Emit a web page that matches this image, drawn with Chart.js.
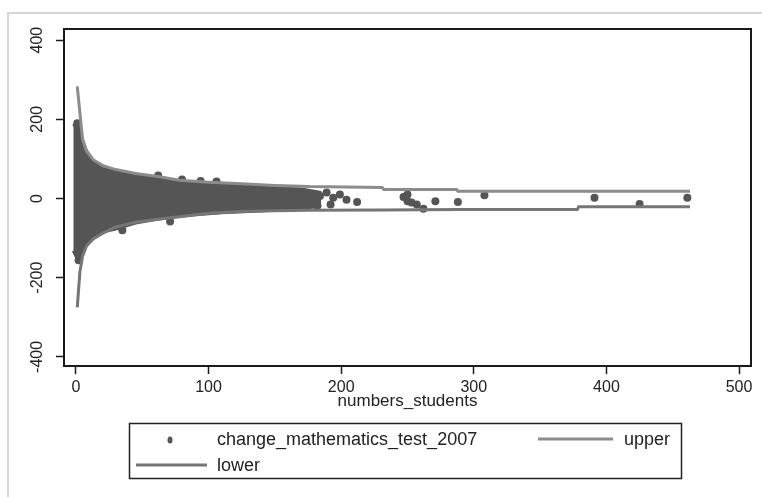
<!DOCTYPE html>
<html>
<head>
<meta charset="utf-8">
<script src="https://cdn.jsdelivr.net/npm/chart.js@4.4.1/dist/chart.umd.min.js"></script>
<style>
  html, body { margin: 0; padding: 0; background: #fff; }
  #wrap { position: relative; width: 762px; height: 497px; overflow: hidden; }
  #frame { position: absolute; left: 7px; top: 12px; right: -4px; bottom: -4px;
           border-top: 2px solid #d6d6d6; border-left: 2px solid #d6d6d6; }
  canvas { position: absolute; left: 0; top: 0; }
</style>
</head>
<body>
<div id="wrap">
  <div id="frame"></div>
  <canvas id="chart" width="762" height="497"></canvas>
</div>
<script>
// axis ticks
const xTicks = [0, 100, 200, 300, 400, 500];
const yTicks = [-400, -200, 0, 200, 400];

// funnel limits
const upperX = [1, 3, 5, 8, 13, 20, 30, 45, 63, 78, 100, 125, 150, 176, 231, 232, 287, 288, 463];
const upperY = [283, 216, 150, 119, 98, 83, 73, 63, 55, 46, 41, 37, 33, 30, 28, 23, 23, 18, 18];
const lowerX = [1, 3, 5, 8, 13, 20, 30, 45, 63, 78, 100, 125, 150, 176, 230, 290, 378, 379, 463];
const lowerY = [-275, -185, -146, -120, -102, -88, -72, -60, -52, -46, -37, -33, -31, -30, -29, -28, -28, -21, -21];

// the dense part of the scatter, as its upper and lower edge
const cloudX   = [-2, 1, 3, 5, 8, 13, 20, 30, 45, 60, 75, 90, 110, 130, 150, 170, 185];
const cloudTop = [182, 192, 180, 147, 120, 96, 83, 71, 61, 53, 46, 41, 36, 32, 28, 24, 15];
const cloudBot = [-132, -152, -150, -132, -110, -94, -85, -77, -62, -53, -46, -41, -36, -33, -30, -27, -17];

// separate schools outside the dense part
const pointX = [1, 2, 35, 62, 71, 80, 94, 106, 156, 179, 182, 184, 189, 192, 194, 199, 204, 212,
                247, 250, 250, 253, 257, 262, 271, 288, 308, 391, 425, 461];
const pointY = [190, -156, -80, 58, -58, 48, 44, 43, 15, -15, -19, 6, 15, -15, 2, 10, -3, -9,
                4, 10, -7, -10, -15, -26, -7, -9, 8, 2, -14, 2];

const FONT = 'Liberation Sans, Arial, sans-serif';
const DARK = '#555555';
const toXY = (xs, ys) => xs.map((x, i) => ({ x: x, y: ys[i] }));

const framePlugin = {
  id: 'frame',
  afterDraw(chart) {
    const { ctx, chartArea: a } = chart;
    ctx.save();
    ctx.strokeStyle = '#1a1a1a';
    ctx.lineWidth = 2;
    ctx.beginPath();
    ctx.moveTo(a.left - 1, a.top);
    ctx.lineTo(a.right, a.top);
    ctx.lineTo(a.right, a.bottom + 1);
    ctx.stroke();
    ctx.restore();
  }
};

// Stata-like boxed legend under the plot
const legendPlugin = {
  id: 'boxLegend',
  afterDraw(chart) {
    const ctx = chart.ctx;
    const ds = chart.data.datasets;
    ctx.save();
    ctx.strokeStyle = '#222';
    ctx.lineWidth = 1.5;
    ctx.strokeRect(129.5, 423.5, 552, 55);
    ctx.font = '18px ' + FONT;
    ctx.fillStyle = '#222';
    ctx.textBaseline = 'middle';
    ctx.textAlign = 'left';
    // scatter entry
    ctx.fillStyle = ds[0].backgroundColor;
    ctx.beginPath();
    ctx.ellipse(170, 440, 2.5, 3.5, 0, 0, Math.PI * 2);
    ctx.fill();
    ctx.fillStyle = '#222';
    ctx.fillText(ds[0].label, 217, 440);
    // upper
    ctx.strokeStyle = ds[3].borderColor;
    ctx.lineWidth = 3;
    ctx.beginPath(); ctx.moveTo(538, 439); ctx.lineTo(613, 439); ctx.stroke();
    ctx.fillText(ds[3].label, 624, 440);
    // lower
    ctx.strokeStyle = ds[4].borderColor;
    ctx.beginPath(); ctx.moveTo(136, 465); ctx.lineTo(207, 465); ctx.stroke();
    ctx.fillText(ds[4].label, 217, 466);
    ctx.restore();
  }
};

new Chart(document.getElementById('chart'), {
  type: 'line',
  data: {
    datasets: [
      {
        label: 'change_mathematics_test_2007',
        data: toXY(pointX, pointY),
        showLine: false,
        pointRadius: 4,
        pointBorderWidth: 0,
        backgroundColor: DARK,
        borderColor: DARK,
        order: 1
      },
      {
        label: 'cloud top',
        data: toXY(cloudX, cloudTop),
        borderColor: DARK,
        borderWidth: 3,
        backgroundColor: DARK,
        pointRadius: 0,
        fill: '+1',
        tension: 0,
        order: 2
      },
      {
        label: 'cloud bottom',
        data: toXY(cloudX, cloudBot),
        borderColor: DARK,
        borderWidth: 3,
        pointRadius: 0,
        fill: false,
        tension: 0,
        order: 2
      },
      {
        label: 'upper',
        data: toXY(upperX, upperY),
        borderColor: '#8c8c8c',
        borderWidth: 3,
        pointRadius: 0,
        fill: false,
        tension: 0,
        order: 0
      },
      {
        label: 'lower',
        data: toXY(lowerX, lowerY),
        borderColor: '#767676',
        borderWidth: 3,
        pointRadius: 0,
        fill: false,
        tension: 0,
        order: 0
      }
    ]
  },
  options: {
    responsive: false,
    animation: false,
    layout: { padding: { top: 29, right: 11, bottom: 85, left: 0 } },
    plugins: { legend: { display: false }, tooltip: { enabled: false } },
    scales: {
      x: {
        type: 'linear',
        min: -9,
        max: 509,
        afterBuildTicks: s => { s.ticks = xTicks.map(v => ({ value: v })); },
        afterFit: s => { s.height = 46; },
        border: { display: true, color: '#1a1a1a', width: 2 },
        grid: { display: true, drawOnChartArea: false, drawTicks: true, tickLength: 8, tickColor: '#1a1a1a', tickWidth: 1.5 },
        ticks: { maxRotation: 0, padding: 4, color: '#222', font: { family: FONT, size: 16 } },
        title: { display: true, text: 'numbers_students', color: '#222', padding: { top: 0, bottom: 0 }, font: { family: FONT, size: 17 } }
      },
      y: {
        type: 'linear',
        min: -423,
        max: 428,
        afterBuildTicks: s => { s.ticks = yTicks.map(v => ({ value: v })); },
        afterFit: s => { s.width = 64; },
        border: { display: true, color: '#1a1a1a', width: 2 },
        grid: { display: true, drawOnChartArea: false, drawTicks: true, tickLength: 8, tickColor: '#1a1a1a', tickWidth: 1.5 },
        ticks: { minRotation: 90, maxRotation: 90, crossAlign: 'center', padding: 2, color: '#222', font: { family: FONT, size: 16 } }
      }
    }
  },
  plugins: [framePlugin, legendPlugin]
});
</script>
</body>
</html>
